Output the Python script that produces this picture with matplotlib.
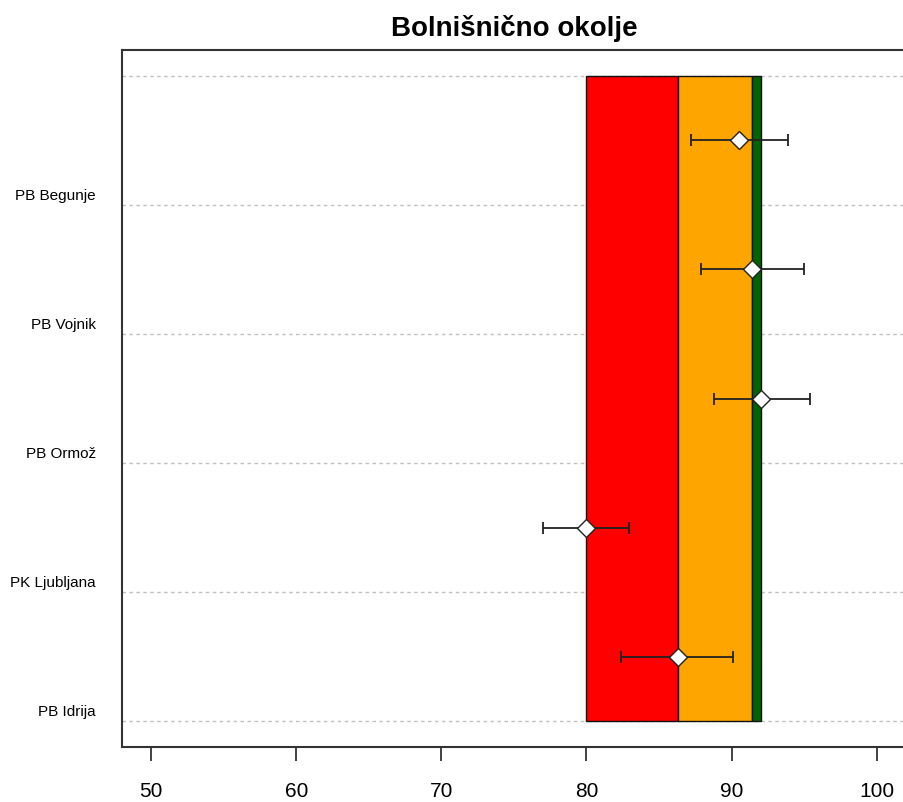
import matplotlib
matplotlib.use('Agg')
import matplotlib.pyplot as plt

plt.rcParams['font.family'] = ['Liberation Sans', 'DejaVu Sans']

# hospitals, bottom to top
labels = ['PB Idrija', 'PK Ljubljana', 'PB Ormož', 'PB Vojnik', 'PB Begunje']
values = [86.3, 80.0, 92.0, 91.4, 90.5]
lower = [82.4, 77.0, 88.8, 87.9, 87.2]
upper = [90.1, 82.9, 95.4, 95.0, 93.85]

# coloured bands
band_edges = [80.0, 86.3, 91.4, 92.0]
band_colors = ['#ff0000', '#ffa500', '#006400']

xticks = [50, 60, 70, 80, 90, 100]

fig = plt.figure(figsize=(9.04, 8.02), dpi=100)
ax = fig.add_axes([0.135, 0.0686, 0.867, 0.869])

n = len(labels)
# dashed lines between groups
for i in range(n + 1):
    ax.axhline(i, color='#c0c0c0', lw=1, ls=(0, (2.5, 2.5)), zorder=0)

for k in range(len(band_colors)):
    ax.barh(n / 2, band_edges[k + 1] - band_edges[k], left=band_edges[k],
            height=n, color=band_colors[k], edgecolor='#111111', lw=1, zorder=1)

ypos = [i + 0.5 for i in range(n)]
xerr = [[v - lo for v, lo in zip(values, lower)],
        [up - v for v, up in zip(values, upper)]]
ax.errorbar(values, ypos, xerr=xerr, fmt='none', ecolor='#222222',
            elinewidth=1.3, capsize=4.5, capthick=1.3, zorder=3)
ax.plot(values, ypos, 'D', ms=9.5, mfc='white', mec='#222222', mew=1, zorder=4)

ax.set_xlim(48, 102)
ax.set_ylim(-0.2, 5.2)
ax.set_xticks(xticks)
ax.set_xticklabels([str(t) for t in xticks], fontsize=15)
ax.tick_params(axis='x', length=10, width=1.2, color='#222222', pad=15)

ax.set_yticks([i + 0.08 for i in range(n)])
ax.set_yticklabels(labels, fontsize=11)
ax.tick_params(axis='y', length=0, pad=19)

for s in ['left', 'bottom', 'top']:
    ax.spines[s].set_color('#333333')
    ax.spines[s].set_linewidth(1.5)
ax.spines['right'].set_visible(False)

ax.set_title('Bolnišnično okolje', fontsize=20, fontweight='bold', pad=10)

fig.savefig('out.png', dpi=100)
